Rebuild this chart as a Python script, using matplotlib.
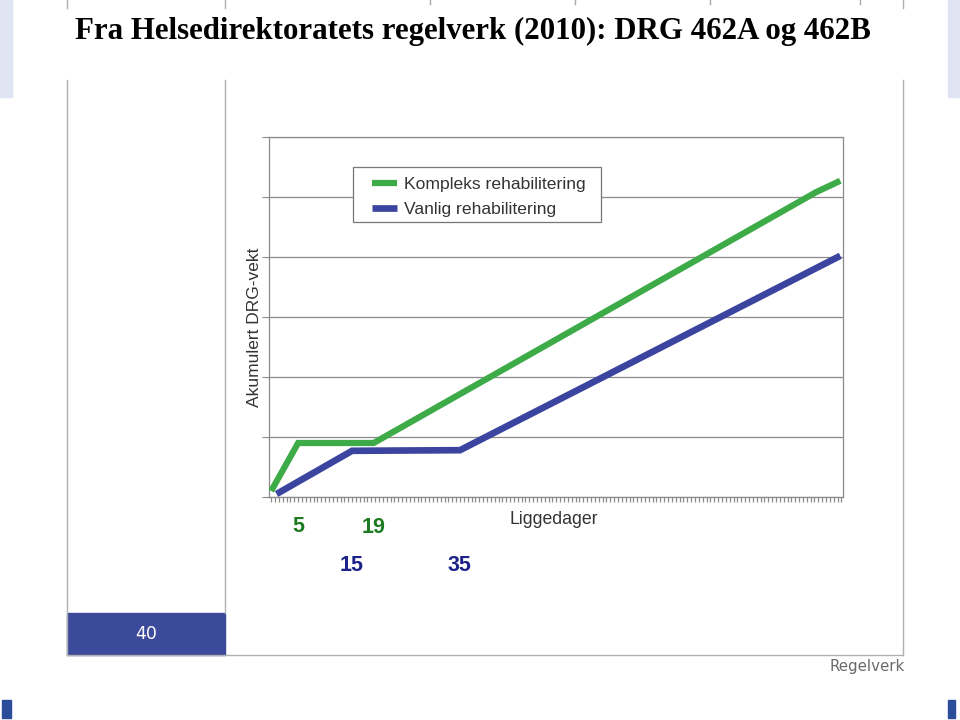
import matplotlib
matplotlib.use("Agg")
import matplotlib.pyplot as plt
import matplotlib.ticker as mticker
import matplotlib.transforms as mtransforms
from matplotlib.patches import Rectangle
from matplotlib.lines import Line2D

# data (y in grid units, x in days)
title = "Fra Helsedirektoratets regelverk (2010): DRG 462A og 462B"
names = ["Kompleks rehabilitering", "Vanlig rehabilitering"]
green_days = [0, 5, 19, 101, 105.5]
green_vals = [0.10, 0.90, 0.90, 5.08, 5.27]
blue_days = [1, 15, 35, 105.5]
blue_vals = [0.05, 0.77, 0.78, 4.02]
green_marks = [5, 19]
blue_marks = [15, 35]

GREEN = "#3dab47"
BLUE = "#3b449f"
GRID = "#8a8a8a"

W, H = 960, 720
fig = plt.figure(figsize=(9.6, 7.2), dpi=100)

def fx(px):
    return px / W

def fy(py):
    return 1 - py / H

# slide decoration
for x0, y0, x1, y1, c in [(0, 0, 12, 97, "#dfe5f2"), (948, 0, 960, 97, "#dfe5f2"),
                          (2, 700, 11, 718, "#2b4c9b"), (948, 700, 955, 718, "#2b4c9b"),
                          (67, 613, 225, 655, "#3c4a9c")]:
    fig.patches.append(Rectangle((fx(x0), fy(y1)), fx(x1 - x0), (y1 - y0) / H,
                                 transform=fig.transFigure, color=c, zorder=0))
for xs, ys in [([67, 67], [80, 655]), ([903, 903], [80, 655]), ([67, 903], [655, 655]),
               ([225, 225], [80, 613]),
               ([67, 67], [0, 8]), ([225, 225], [0, 8]), ([903, 903], [0, 8])]:
    fig.lines.append(Line2D([fx(x) for x in xs], [fy(y) for y in ys],
                            transform=fig.transFigure, color="#b0b0b0", lw=1.0))
for x in [430, 575, 710, 860]:
    fig.lines.append(Line2D([fx(x), fx(x)], [fy(0), fy(4)],
                            transform=fig.transFigure, color="#a8a8a8", lw=1.0))

fig.text(fx(473), fy(31), title, ha="center", va="center",
         fontfamily="Liberation Serif", fontweight="bold", fontsize=22.2)
fig.text(fx(146), fy(634), "40", ha="center", va="center", color="white",
         fontfamily=["Liberation Sans Narrow", "DejaVu Sans"], fontsize=12.5)
fig.text(fx(905), fy(666), "Regelverk", ha="right", va="center", color="#6a6a6a",
         fontfamily=["Liberation Sans Narrow", "DejaVu Sans"], fontsize=10.8)

# chart
ax = fig.add_axes([fx(269), fy(497), fx(843 - 269), (497 - 137) / H])
ax.plot(green_days, green_vals, color=GREEN, lw=4.5, label=names[0],
        solid_joinstyle="miter", solid_capstyle="butt", zorder=3)
ax.plot(blue_days, blue_vals, color=BLUE, lw=4.8, label=names[1],
        solid_joinstyle="miter", solid_capstyle="butt", zorder=3)

ax.set_xlim(-0.4, 106)
ax.set_ylim(0, 6)
ax.yaxis.set_major_locator(mticker.MultipleLocator(1))
ax.xaxis.set_major_locator(mticker.MultipleLocator(5 / 7))
ax.tick_params(axis="y", direction="out", length=5, color=GRID, labelleft=False)
ax.tick_params(axis="x", direction="out", length=3.5, color=GRID, width=0.9,
               labelbottom=False)
ax.grid(axis="y", color=GRID, lw=0.9)
for s in ax.spines.values():
    s.set_color(GRID)
    s.set_linewidth(0.9)

sans = ["Liberation Sans", "DejaVu Sans"]
ax.text(-0.025, 0.472, "Akumulert DRG-vekt", transform=ax.transAxes, rotation=90,
        ha="center", va="center", fontfamily=sans, fontsize=12.5, color="#333333")
ax.text(0.4965, -0.062, "Liggedager", transform=ax.transAxes,
        ha="center", va="center", fontfamily=sans, fontsize=12.7, color="#333333")

trans = mtransforms.blended_transform_factory(ax.transData, ax.transAxes)
for d, yy in zip(green_marks, [-0.081, -0.085]):
    ax.text(d, yy, str(d), transform=trans, ha="center", va="center",
            fontfamily=sans, fontweight="bold", fontsize=15.5, color="#1b7a22")
for d in blue_marks:
    ax.text(d, -0.19, str(d), transform=trans, ha="center", va="center",
            fontfamily=sans, fontweight="bold", fontsize=15.5, color="#1c2388")

# legend box drawn separately so its padding matches the slide
box = Rectangle((fx(353), fy(222)), fx(601 - 353), (222 - 167) / H,
                transform=fig.transFigure, facecolor="white", edgecolor="#777777",
                lw=0.9, zorder=4, clip_on=False)
ax.add_patch(box)
leg = ax.legend(loc="upper left", bbox_to_anchor=(fx(372), fy(177)),
                bbox_transform=fig.transFigure, borderaxespad=0, borderpad=0,
                prop={"family": sans, "size": 12.6}, frameon=False,
                handlelength=1.45, handletextpad=0.35, labelspacing=0.55)
leg.set_zorder(5)
for t in leg.get_texts():
    t.set_color("#333333")

fig.savefig("out.png", dpi=100)
